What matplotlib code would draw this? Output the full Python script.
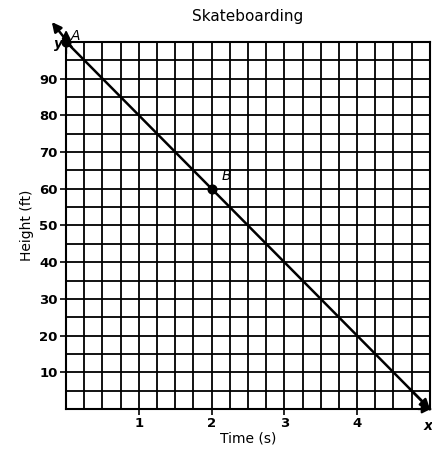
import matplotlib.pyplot as plt
import numpy as np

# line data: height vs time
time_s = [0, 5]
height_ft = [100, 0]

point_names = ["A", "B"]
point_x = [0, 2]
point_y = [100, 60]

x_ticks = [1, 2, 3, 4]
y_ticks = [10, 20, 30, 40, 50, 60, 70, 80, 90]

fig = plt.figure(figsize=(4.32, 4.55), dpi=100)
ax = fig.add_axes([0.153, 0.101, 0.842, 0.807])
ax.set_xlim(0, 5)
ax.set_ylim(0, 100)

# grid: 0.25 s by 5 ft
ax.set_xticks(np.arange(0, 5.01, 0.25), minor=True)
ax.set_yticks(np.arange(0, 100.1, 5), minor=True)
ax.set_xticks(x_ticks)
ax.set_yticks(y_ticks)
ax.grid(which="both", color="black", linewidth=1.3)
ax.tick_params(which="minor", length=0)
ax.tick_params(which="major", length=4, width=1.2, labelsize=9.5, pad=2)
for lbl in ax.get_xticklabels() + ax.get_yticklabels():
    lbl.set_fontweight("bold")
for s in ax.spines.values():
    s.set_linewidth(1.5)

# the line with arrows on both ends
ax.plot(time_s, height_ft, color="black", linewidth=1.8, clip_on=False)
ax.annotate("", xy=(-0.22, 106), xytext=(0.1, 98),
            arrowprops=dict(arrowstyle="-|>", color="black", lw=1.8,
                            mutation_scale=14), annotation_clip=False)
ax.annotate("", xy=(5.03, -0.6), xytext=(4.7, 6),
            arrowprops=dict(arrowstyle="-|>", color="black", lw=1.8,
                            mutation_scale=14), annotation_clip=False)

# axis arrows
ax.annotate("", xy=(0, 104), xytext=(0, 96),
            arrowprops=dict(arrowstyle="-|>", color="black", lw=1.5,
                            mutation_scale=12), annotation_clip=False)
ax.annotate("", xy=(5.05, 0), xytext=(4.8, 0),
            arrowprops=dict(arrowstyle="-|>", color="black", lw=1.5,
                            mutation_scale=12), annotation_clip=False)
ax.text(-0.1, 99.5, "y", style="italic", fontsize=10, fontweight="bold",
        ha="center", va="center", clip_on=False)
ax.text(4.98, -4.5, "x", style="italic", fontsize=10, fontweight="bold",
        ha="center", va="center", clip_on=False)

ax.scatter(point_x, point_y, s=40, color="black", zorder=5, clip_on=False)
ax.text(point_x[0] + 0.13, point_y[0] + 1.5, point_names[0], style="italic",
        fontsize=10, ha="center", va="center")
ax.text(point_x[1] + 0.2, point_y[1] + 3.5, point_names[1], style="italic",
        fontsize=10, ha="center", va="center")

ax.set_title("Skateboarding", fontsize=11, pad=15, fontweight="medium")
ax.set_xlabel("Time (s)", fontsize=10, labelpad=1)
ax.set_ylabel("Height (ft)", fontsize=10, labelpad=4)

fig.savefig("out.png", dpi=100)
